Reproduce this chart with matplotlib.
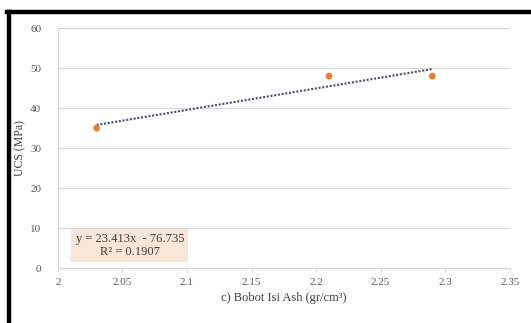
import numpy as np
import matplotlib
matplotlib.use("Agg")
import matplotlib.pyplot as plt
from matplotlib.lines import Line2D

# Data
x_vals = [2.03, 2.21, 2.29]
y_vals = [35, 48, 48]
x_ticks = [2, 2.05, 2.1, 2.15, 2.2, 2.25, 2.3, 2.35]
x_tick_labels = ["2", "2.05", "2.1", "2.15", "2.2", "2.25", "2.3", "2.35"]
y_ticks = [0, 10, 20, 30, 40, 50, 60]
eq_text = "y = 23.413x  - 76.735\nR\u00b2 = 0.1907"
x_label = "c) Bobot Isi Ash (gr/cm\u00b3)"
y_label = "UCS (MPa)"

plt.rcParams['font.family'] = ['Liberation Serif', 'DejaVu Serif']

fig = plt.figure(figsize=(5.31, 3.23), dpi=100)
ax = fig.add_axes([0.109, 0.170, 0.851, 0.743])

# grid
ax.set_axisbelow(True)
ax.yaxis.grid(True, color="#d9d9d9", linewidth=0.9)
ax.xaxis.grid(False)

# trendline from fit
coef = np.polyfit(x_vals, y_vals, 1)
xt = np.array([min(x_vals), max(x_vals)])
ax.plot(xt, np.polyval(coef, xt), linestyle=(0, (1, 0.8)), color="#44546A", linewidth=1.5, zorder=2)

ax.scatter(x_vals, y_vals, s=24, color="#ED7D31", zorder=3, edgecolors="none")

ax.set_xlim(2, 2.35)
ax.set_ylim(0, 60)
ax.set_xticks(x_ticks)
ax.set_xticklabels(x_tick_labels)
ax.set_yticks(y_ticks)

for s in ["top", "right"]:
    ax.spines[s].set_visible(False)
for s in ["left", "bottom"]:
    ax.spines[s].set_color("#d9d9d9")
    ax.spines[s].set_linewidth(0.9)

ax.tick_params(axis="both", colors="#d9d9d9", labelcolor="#595959", labelsize=8, length=3, width=0.8)
ax.tick_params(axis="y", length=0, pad=12)
ax.tick_params(axis="x", pad=4)

ax.set_xlabel(x_label, fontsize=9, color="#404040", labelpad=4)
ax.set_ylabel(y_label, fontsize=8.5, color="#404040", labelpad=3)

ax.text(2.0557, 5.6, eq_text, fontsize=9, color="#404040", ha="center", va="center",
        linespacing=1.05,
        bbox=dict(boxstyle="square,pad=0.35", facecolor="#FBE5D6", edgecolor="none"))

# black frame (top and left edges)
fig.add_artist(Line2D([0.0135, 1.0], [0.9625, 0.9625], transform=fig.transFigure, color="black", linewidth=3.2))
fig.add_artist(Line2D([0.0165, 0.0165], [0.0, 0.9625], transform=fig.transFigure, color="black", linewidth=3.2))

fig.savefig("out.png", dpi=100)
